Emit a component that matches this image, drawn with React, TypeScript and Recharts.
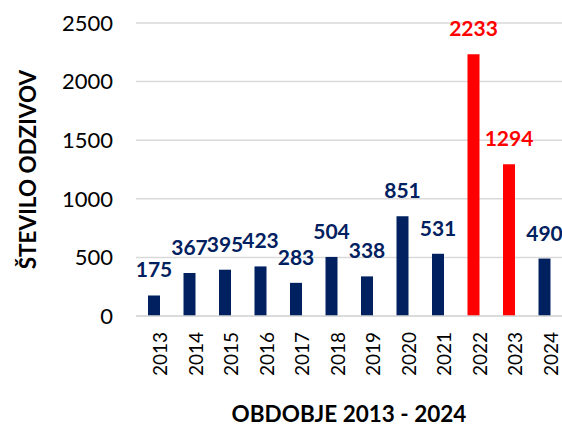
import React from "react";
import {
  BarChart,
  Bar,
  XAxis,
  YAxis,
  CartesianGrid,
  Cell,
  LabelList,
  Label,
} from "recharts";

const years = [
  "2013", "2014", "2015", "2016", "2017", "2018",
  "2019", "2020", "2021", "2022", "2023", "2024",
];
const responses = [175, 367, 395, 423, 283, 504, 338, 851, 531, 2233, 1294, 490];
const highlightedYears = ["2022", "2023"];
const yTicks = [0, 500, 1000, 1500, 2000, 2500];

const NAVY = "#002060";
const RED = "#FF0000";
const FONT = "Lato, 'Open Sans', sans-serif";

const data = years.map((year, i) => ({ year, value: responses[i] }));
const colorFor = (year: string) => (highlightedYears.includes(year) ? RED : NAVY);

const ValueLabel = (props: any) => {
  const { x, y, width, value, index } = props;
  return (
    <text
      x={x + width / 2}
      y={y - 18}
      textAnchor="middle"
      fill={colorFor(years[index])}
      fontFamily={FONT}
      fontWeight={700}
      fontSize={21}
    >
      {value}
    </text>
  );
};

const YTitle = (props: any) => {
  const { viewBox } = props;
  const cx = 27;
  const cy = viewBox.y + viewBox.height / 2;
  return (
    <text
      x={cx}
      y={cy}
      transform={`rotate(-90, ${cx}, ${cy})`}
      textAnchor="middle"
      dominantBaseline="central"
      fontFamily={FONT}
      fontWeight={700}
      fontSize={22.5}
      fill="#000"
    >
      ŠTEVILO ODZIVOV
    </text>
  );
};

export default function App() {
  return (
    <div style={{ position: "absolute", left: 0, top: 0, background: "#fff" }}>
      <BarChart
        width={562}
        height={428}
        data={data}
        margin={{ top: 23, right: 0, left: 0, bottom: 0 }}
      >
        <CartesianGrid vertical={false} stroke="#d9d9d9" strokeWidth={1.5} />
        <XAxis
          dataKey="year"
          height={112}
          interval={0}
          angle={-90}
          textAnchor="end"
          tickSize={0}
          tickMargin={16}
          axisLine={{ stroke: "#d9d9d9", strokeWidth: 1.5 }}
          tickLine={false}
          tick={{ fill: "#000", fontSize: 19, fontFamily: FONT }}
        >
          <Label
            value="OBDOBJE 2013 - 2024"
            position="insideBottom"
            offset={6}
            fill="#000"
            fontFamily={FONT}
            fontWeight={700}
            fontSize={22.5}
          />
        </XAxis>
        <YAxis
          width={136}
          domain={[0, 2500]}
          ticks={yTicks}
          axisLine={false}
          tickLine={false}
          tickSize={0}
          tickMargin={23}
          tick={{ fill: "#000", fontSize: 22, fontFamily: FONT }}
        >
          <Label content={<YTitle />} />
        </YAxis>
        <Bar dataKey="value" barSize={12} isAnimationActive={false}>
          {data.map((d) => (
            <Cell key={d.year} fill={colorFor(d.year)} />
          ))}
          <LabelList dataKey="value" content={<ValueLabel />} />
        </Bar>
      </BarChart>
    </div>
  );
}
